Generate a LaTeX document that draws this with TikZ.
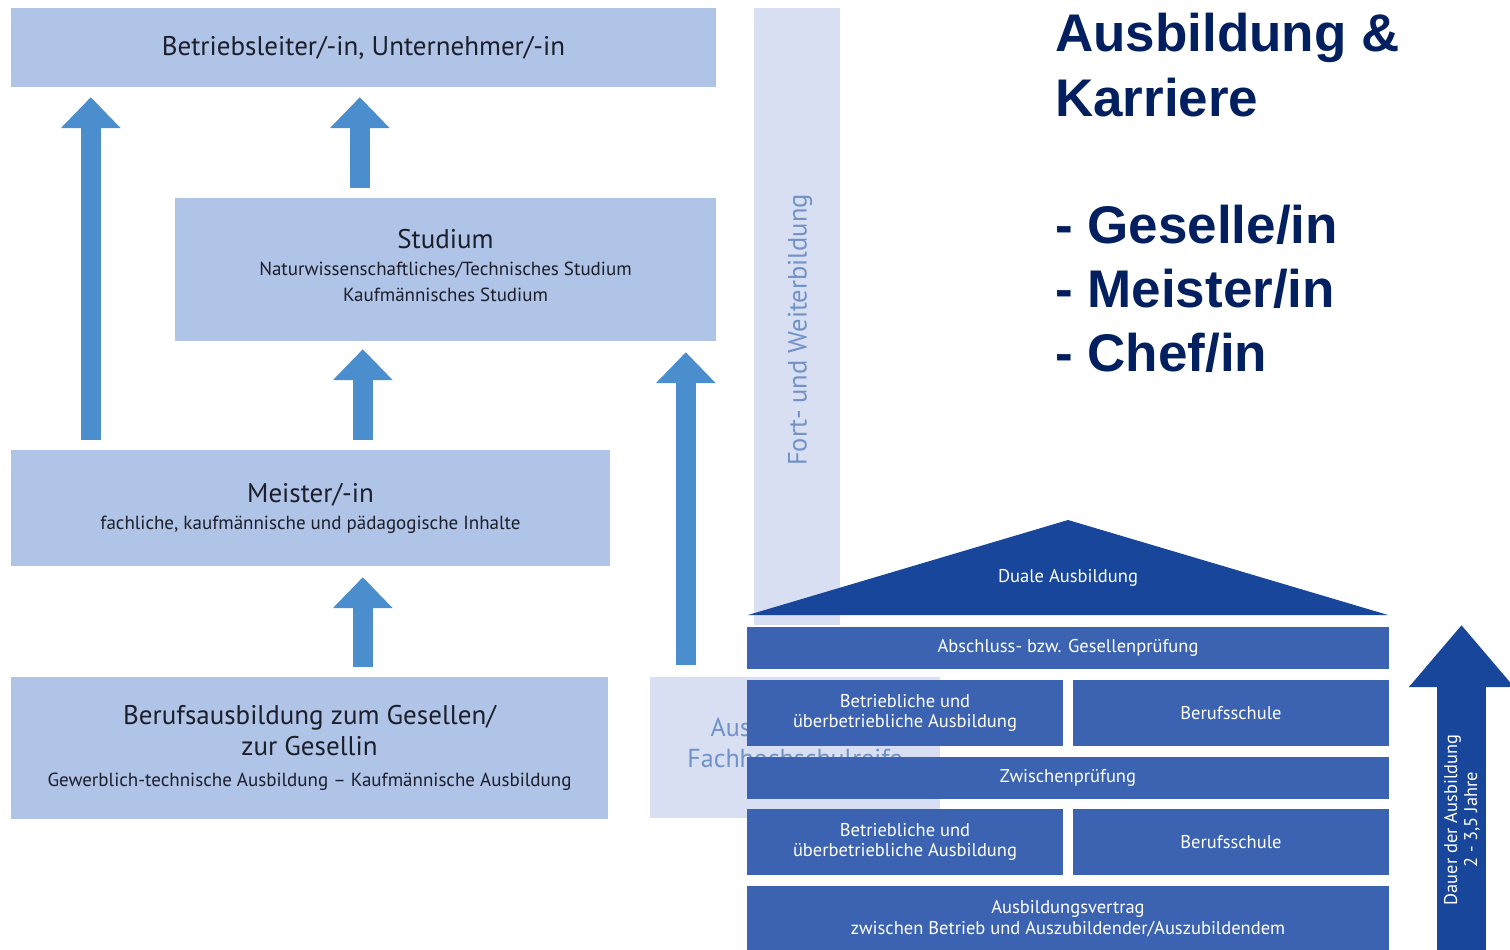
\documentclass[tikz,border=0pt]{standalone}
\usepackage{fontspec}
\setmainfont{PT Sans}
\newfontfamily\titlefont{Liberation Sans}
\usetikzlibrary{arrows.meta,positioning}
\definecolor{BoxLight}{RGB}{176,196,232}
\definecolor{ArrowBlue}{RGB}{74,142,205}
\definecolor{FortBlue}{RGB}{216,223,242}
\definecolor{FortText}{RGB}{112,146,198}
\definecolor{DualBlue}{RGB}{59,99,177}
\definecolor{RoofBlue}{RGB}{23,70,154}
\definecolor{TitleNavy}{RGB}{2,32,96}
\definecolor{TextDark}{RGB}{28,30,42}

\newcommand{\boxhead}{\fontsize{27}{30}\selectfont}
\newcommand{\boxsub}{\fontsize{19}{26}\selectfont}

\tikzset{
  lightbox/.style={fill=BoxLight, inner sep=0pt, align=center, text=TextDark},
  dualbox/.style={fill=DualBlue, inner sep=0pt, align=center, text=white,
    font=\fontsize{18.5}{20.5}\selectfont},
  bigarrow/.style={draw=ArrowBlue, line width=20pt,
    -{Triangle[width=58pt,length=31pt]}},
  titleline/.style={anchor=base west, inner sep=0pt, text=TitleNavy,
    font=\titlefont\bfseries\fontsize{53}{64}\selectfont}
}

\begin{document}
\begin{tikzpicture}[x=1pt,y=-1pt]
  \useasboundingbox (0,0) rectangle (1510,950);

  % career boxes on the left
  \node[lightbox, minimum width=705pt, minimum height=79pt, font=\boxhead] (betrieb) at (363.5,47.5)
    {Betriebsleiter/-in, Unternehmer/-in};
  \node[lightbox, minimum width=541pt, minimum height=143pt] (studium) at (445.5,269.5) {};
  \node[align=center, text=TextDark, font=\boxsub] (studiumtext) at (445.5,265.5)
    {{\boxhead Studium}\\[1pt]
     Naturwissenschaftliches/Technisches Studium\\
     Kaufmännisches Studium};
  \node[lightbox, minimum width=599pt, minimum height=116pt, font=\boxsub] (meister) at (310.5,508)
    {{\boxhead Meister/-in}\\[1pt]
     fachliche, kaufmännische und pädagogische Inhalte};
  \node[lightbox, minimum width=597pt, minimum height=142pt, font=\fontsize{27}{31}\selectfont] (beruf) at (309.5,748)
    {Berufsausbildung zum Gesellen/\\
     zur Gesellin\\
     {\boxsub Gewerblich-technische Ausbildung -- Kaufmännische Ausbildung}};

  % Fort- und Weiterbildung column
  \node[fill=FortBlue, inner sep=0pt, minimum width=86pt, minimum height=617pt] (fort) at (797,316.5) {};
  \node[rotate=90, text=FortText, font=\fontsize{26.5}{30}\selectfont] (fortlabel) at (800,330)
    {Fort- und Weiterbildung};

  % box behind the dual panel
  \node[fill=FortBlue, inner sep=0pt, minimum width=290pt, minimum height=141pt] (fhr) at (795,747.5) {};
  \node[align=center, text=FortText, font=\fontsize{26}{31}\selectfont] (fhrtext) at (795,742.5)
    {Ausbildung mit\\Fachhochschulreife};

  % arrows
  \draw[bigarrow] ([xshift=80pt,yshift=10pt]meister.north west) -- ([xshift=80pt,yshift=-10pt]betrieb.south west);
  \draw[bigarrow] ([xshift=185pt,yshift=10pt]studium.north west) -- ([xshift=349pt,yshift=-10pt]betrieb.south west);
  \draw[bigarrow] ([xshift=352pt,yshift=10pt]meister.north west) -- ([xshift=188pt,yshift=-8pt]studium.south west);
  \draw[bigarrow] ([xshift=352pt,yshift=10pt]beruf.north west) -- ([xshift=352pt,yshift=-11pt]meister.south west);
  \draw[bigarrow] ([xshift=36pt,yshift=12pt]fhr.north west) -- ([xshift=511pt,yshift=-11pt]studium.south west);

  % dual system house
  \fill[RoofBlue] (748,615) -- (1068,520) -- (1388,615) -- cycle;
  \node[text=white, font=\fontsize{18.5}{20.5}\selectfont] (duale) at (1068,578) {Duale Ausbildung};
  \node[dualbox, minimum width=642pt, minimum height=42pt] (abschluss) at (1068,648)
    {Abschluss- bzw. Gesellenprüfung};
  \node[dualbox, minimum width=316pt, minimum height=66pt] (betrieb1) at (905,713)
    {Betriebliche und\\überbetriebliche Ausbildung};
  \node[dualbox, minimum width=316pt, minimum height=66pt] (schule1) at (1231,713)
    {Berufsschule};
  \node[dualbox, minimum width=642pt, minimum height=42pt] (zwischen) at (1068,778)
    {Zwischenprüfung};
  \node[dualbox, minimum width=316pt, minimum height=66pt] (betrieb2) at (905,842)
    {Betriebliche und\\überbetriebliche Ausbildung};
  \node[dualbox, minimum width=316pt, minimum height=66pt] (schule2) at (1231,842)
    {Berufsschule};
  \node[dualbox, minimum width=642pt, minimum height=65pt] (vertrag) at (1068,918.5)
    {Ausbildungsvertrag\\zwischen Betrieb und Auszubildender/Auszubildendem};

  % duration arrow
  \coordinate (dauerbot) at (1461.5,950);
  \coordinate (dauertop) at (1461.5,625);
  \draw[draw=RoofBlue, line width=49pt, -{Triangle[width=101pt,length=62pt]}] (dauerbot) -- (dauertop);
  \node[rotate=90, text=white, align=center, font=\fontsize{18.4}{20}\selectfont] (dauer) at (1462,820)
    {Dauer der Ausbildung\\2 - 3,5 Jahre};

  % heading
  \node[titleline] (head1) at (1055,52) {Ausbildung \&};
  \node[titleline] (head2) at (1055,116) {Karriere};
  \node[titleline] (item1) at (1055,243) {- Geselle/in};
  \node[titleline] (item2) at (1055,307) {- Meister/in};
  \node[titleline] (item3) at (1055,371) {- Chef/in};
\end{tikzpicture}
\end{document}
